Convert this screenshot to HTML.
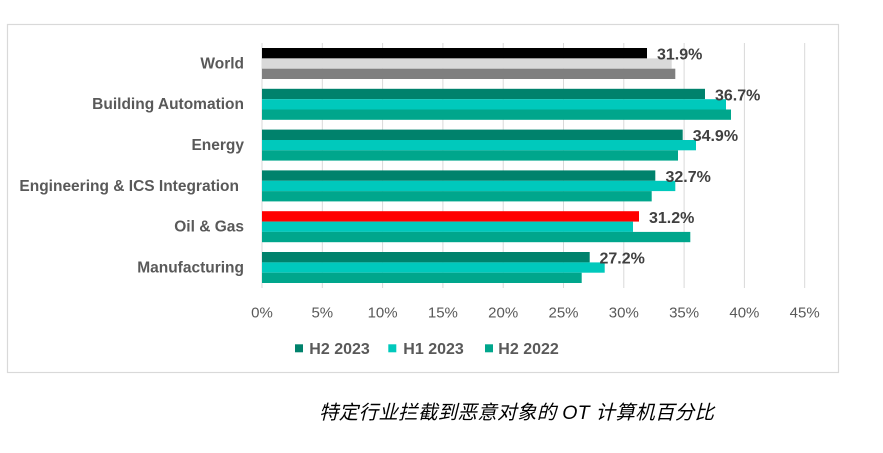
<!DOCTYPE html>
<html>
<head>
<meta charset="utf-8">
<style>
  html, body { margin: 0; padding: 0; background: #fff; }
  svg { display: block; }
  text { font-family: "Liberation Sans", "Noto Sans CJK SC", sans-serif; }
</style>
</head>
<body>
<svg width="883" height="453" viewBox="0 0 883 453" xmlns="http://www.w3.org/2000/svg">
  <rect x="0" y="0" width="883" height="453" fill="#ffffff"/>
  <!-- frame -->
  <rect x="7.5" y="24.5" width="831" height="348" fill="none" stroke="#d9d9d9" stroke-width="1.2"/>

  <!-- gridlines -->
  <g stroke="#d9d9d9" stroke-width="1">
    <line x1="262" y1="43" x2="262" y2="288"/>
    <line x1="322.3" y1="43" x2="322.3" y2="288"/>
    <line x1="382.6" y1="43" x2="382.6" y2="288"/>
    <line x1="442.9" y1="43" x2="442.9" y2="288"/>
    <line x1="503.2" y1="43" x2="503.2" y2="288"/>
    <line x1="563.5" y1="43" x2="563.5" y2="288"/>
    <line x1="623.8" y1="43" x2="623.8" y2="288"/>
    <line x1="684.1" y1="43" x2="684.1" y2="288"/>
    <line x1="744.4" y1="43" x2="744.4" y2="288"/>
    <line x1="804.7" y1="43" x2="804.7" y2="288"/>
  </g>

  <!-- World -->
  <rect x="262" y="48" width="385" height="10.4" fill="#000000"/>
  <rect x="262" y="58.4" width="409.7" height="10.3" fill="#d9d9d9"/>
  <rect x="262" y="68.7" width="413.3" height="10.3" fill="#7f7f7f"/>

  <!-- Building Automation -->
  <rect x="262" y="88.8" width="443" height="10.4" fill="#00826c"/>
  <rect x="262" y="99.2" width="464" height="10.3" fill="#00c9bc"/>
  <rect x="262" y="109.5" width="469" height="10.3" fill="#00a68c"/>

  <!-- Energy -->
  <rect x="262" y="129.6" width="420.7" height="10.4" fill="#00826c"/>
  <rect x="262" y="140" width="434" height="10.3" fill="#00c9bc"/>
  <rect x="262" y="150.3" width="416" height="10.3" fill="#00a68c"/>

  <!-- Engineering -->
  <rect x="262" y="170.4" width="393.3" height="10.4" fill="#00826c"/>
  <rect x="262" y="180.8" width="413.3" height="10.3" fill="#00c9bc"/>
  <rect x="262" y="191.1" width="389.7" height="10.3" fill="#00a68c"/>

  <!-- Oil & Gas -->
  <rect x="262" y="211.2" width="377" height="10.4" fill="#ff0000"/>
  <rect x="262" y="221.6" width="371" height="10.3" fill="#00c9bc"/>
  <rect x="262" y="231.9" width="428.3" height="10.3" fill="#00a68c"/>

  <!-- Manufacturing -->
  <rect x="262" y="252" width="327.7" height="10.4" fill="#00826c"/>
  <rect x="262" y="262.4" width="342.7" height="10.3" fill="#00c9bc"/>
  <rect x="262" y="272.7" width="319.7" height="10.3" fill="#00a68c"/>

  <!-- data labels -->
  <g font-size="16" font-weight="bold" fill="#404040">
    <text x="657" y="59.5">31.9%</text>
    <text x="715" y="100.5">36.7%</text>
    <text x="692.7" y="141.2">34.9%</text>
    <text x="665.5" y="182">32.7%</text>
    <text x="649" y="222.8">31.2%</text>
    <text x="599.5" y="263.6">27.2%</text>
  </g>

  <!-- category labels -->
  <g font-size="15.5" font-weight="bold" fill="#595959" text-anchor="end">
    <text x="244" y="68.3">World</text>
    <text x="244" y="109.1">Building Automation</text>
    <text x="244" y="149.9">Energy</text>
    <text x="239" y="191.2">Engineering &amp; ICS Integration</text>
    <text x="244" y="231.5">Oil &amp; Gas</text>
    <text x="244" y="272.3">Manufacturing</text>
  </g>

  <!-- x tick labels -->
  <g font-size="15" fill="#595959" text-anchor="middle">
    <text x="262" y="317.3">0%</text>
    <text x="322.3" y="317.3">5%</text>
    <text x="382.6" y="317.3">10%</text>
    <text x="442.9" y="317.3">15%</text>
    <text x="503.2" y="317.3">20%</text>
    <text x="563.5" y="317.3">25%</text>
    <text x="623.8" y="317.3">30%</text>
    <text x="684.1" y="317.3">35%</text>
    <text x="744.4" y="317.3">40%</text>
    <text x="804.7" y="317.3">45%</text>
  </g>

  <!-- legend -->
  <rect x="295" y="344.3" width="8" height="8" fill="#00826c"/>
  <rect x="388.3" y="344.3" width="8" height="8" fill="#00c9bc"/>
  <rect x="485" y="344.3" width="8" height="8" fill="#00a68c"/>
  <g font-size="16" fill="#595959" font-weight="bold">
    <text x="309.3" y="354">H2 2023</text>
    <text x="403.3" y="354">H1 2023</text>
    <text x="498.3" y="354">H2 2022</text>
  </g>

  <!-- caption -->
  <text x="319" y="419" font-size="19.5" font-style="italic" fill="#000000" textLength="395" lengthAdjust="spacing" style="font-family: 'Liberation Sans', 'Noto Sans CJK SC', sans-serif;">特定行业拦截到恶意对象的 OT 计算机百分比</text>
</svg>
</body>
</html>
